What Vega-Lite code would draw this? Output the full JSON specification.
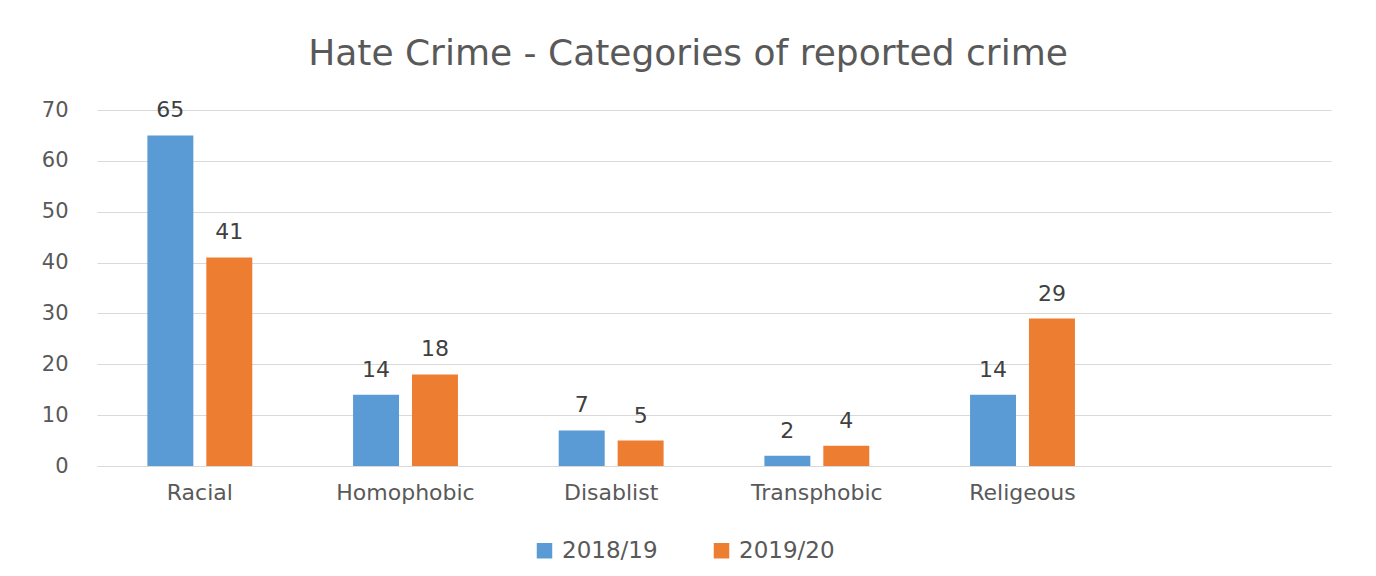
{
  "$schema": "https://vega.github.io/schema/vega-lite/v6.json",
  "width": 1234,
  "height": 356,
  "autosize": {"type": "none"},
  "padding": {"left": 97, "top": 110, "right": 45, "bottom": 110},
  "background": "white",
  "title": {
    "text": "Hate Crime - Categories of reported crime",
    "font": "DejaVu Sans",
    "fontSize": 36,
    "fontWeight": "normal",
    "color": "#595959",
    "anchor": "middle",
    "dx": -26,
    "offset": 26
  },
  "data": {
    "values": [
      {"category": "Racial", "year": "2018/19", "count": 65},
      {"category": "Racial", "year": "2019/20", "count": 41},
      {"category": "Homophobic", "year": "2018/19", "count": 14},
      {"category": "Homophobic", "year": "2019/20", "count": 18},
      {"category": "Disablist", "year": "2018/19", "count": 7},
      {"category": "Disablist", "year": "2019/20", "count": 5},
      {"category": "Transphobic", "year": "2018/19", "count": 2},
      {"category": "Transphobic", "year": "2019/20", "count": 4},
      {"category": "Religeous", "year": "2018/19", "count": 14},
      {"category": "Religeous", "year": "2019/20", "count": 29}
    ]
  },
  "encoding": {
    "x": {
      "field": "category",
      "type": "nominal",
      "sort": null,
      "scale": {
        "domain": ["Racial", "Homophobic", "Disablist", "Transphobic", "Religeous", " "],
        "paddingInner": 0.49,
        "paddingOuter": 0.245
      },
      "axis": {
        "title": null,
        "labelAngle": 0,
        "ticks": false,
        "domain": true,
        "domainColor": "#d9d9d9",
        "domainWidth": 1,
        "labelFont": "DejaVu Sans",
        "labelFontSize": 22,
        "labelColor": "#595959",
        "labelPadding": 16
      }
    },
    "xOffset": {
      "field": "year",
      "type": "nominal",
      "scale": {"paddingInner": 0.22, "paddingOuter": 0}
    },
    "y": {
      "field": "count",
      "type": "quantitative",
      "scale": {"domain": [0, 70]},
      "axis": {
        "title": null,
        "values": [0, 10, 20, 30, 40, 50, 60, 70],
        "ticks": false,
        "domain": false,
        "grid": true,
        "gridColor": "#d9d9d9",
        "labelFont": "DejaVu Sans",
        "labelFontSize": 21,
        "labelColor": "#595959",
        "labelPadding": 29
      }
    }
  },
  "layer": [
    {
      "mark": {"type": "bar"},
      "encoding": {
        "color": {
          "field": "year",
          "type": "nominal",
          "scale": {"domain": ["2018/19", "2019/20"], "range": ["#5B9BD5", "#ED7D31"]},
          "legend": {
            "title": null,
            "orient": "none",
            "legendX": 436,
            "legendY": 429,
            "direction": "horizontal",
            "symbolType": "square",
            "symbolSize": 240,
            "symbolStrokeWidth": 0,
            "labelFont": "DejaVu Sans",
            "labelFontSize": 23,
            "labelColor": "#595959",
            "columnPadding": 52,
            "labelOffset": 6
          }
        }
      }
    },
    {
      "mark": {
        "type": "text",
        "baseline": "alphabetic",
        "dy": -18,
        "font": "DejaVu Sans",
        "fontSize": 22,
        "color": "#404040"
      },
      "encoding": {
        "text": {"field": "count", "type": "quantitative"}
      }
    }
  ],
  "config": {
    "view": {"stroke": null}
  }
}
